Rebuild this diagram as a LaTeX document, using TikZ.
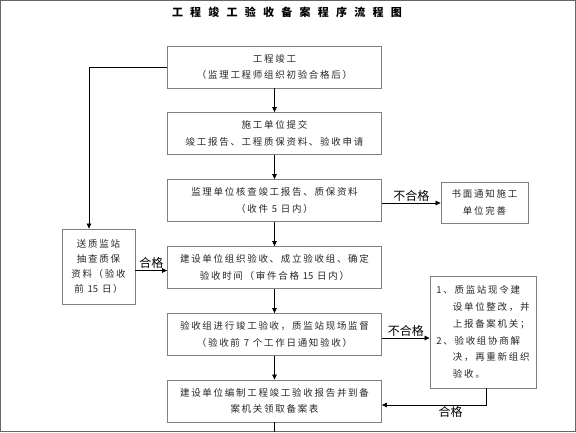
\documentclass[tikz,border=0pt]{standalone}
\usepackage{fontspec}
\usetikzlibrary{arrows.meta}
\newfontfamily\cjk[LetterSpace=18]{Noto Sans CJK SC}
\newfontfamily\cjktag{Noto Sans CJK SC}
\newfontfamily\cjktitle[LetterSpace=66]{Noto Sans CJK SC}
\newcommand\digits[1]{{\cjktag #1}}

\begin{document}
\begin{tikzpicture}[x=1pt,y=-1pt,
    box/.style={draw=black!50,line width=.8pt,align=center,inner sep=0pt,
      text=black!85,font=\cjk\fontsize{9.5}{16.5}\selectfont},
    main/.style={box,minimum width=214pt,minimum height=42pt},
    flow/.style={-{Triangle[length=5pt,width=4.5pt]},line width=.7pt},
    tag/.style={font=\cjktag\fontsize{12}{12}\selectfont,inner sep=1.5pt}]
  \useasboundingbox (0,0) rectangle (576,432);
  \draw[black!60,line width=1pt] (.5,.5) rectangle (575.5,431.5);
  %
  \node[font=\cjktitle\bfseries\fontsize{11}{11}\selectfont] (title) at (287,12)
       {工\hspace{7pt}程竣工验收备案程序流程图};
  %
  % main column
  \node[main] (finish)   at (274.5,67)    {工程竣工\\（监理工程师组织初验合格后）};
  \node[main] (submit)   at (274.5,133.5) {施工单位提交\\竣工报告、工程质保资料、验收申请};
  \node[main] (review)   at (274.5,200.5) {监理单位核查竣工报告、质保资料\\（收件 \digits{5} 日内）};
  \node[main] (organize) at (274.5,267.5) {建设单位组织验收、成立验收组、确定\\验收时间（审件合格 \digits{15} 日内）};
  \node[main] (inspect)  at (274.5,334.5) {验收组进行竣工验收，质监站现场监督\\（验收前 \digits{7} 个工作日通知验收）};
  \node[main] (report)   at (274.5,401)   {建设单位编制工程竣工验收报告并到备\\案机关领取备案表};
  %
  % side boxes
  \node[box,minimum width=73pt,minimum height=75pt,
        font=\cjk\fontsize{9.5}{14.7}\selectfont] (send) at (98.5,266.5)
       {送质监站\\抽查质保\\资料（验收\\前 \digits{15} 日）};
  \node[box,minimum width=87pt,minimum height=41pt] (notify) at (484.5,202.5)
       {书面通知施工\\单位完善};
  \node[box,minimum width=106pt,minimum height=112pt,align=left,
        font=\cjk\fontsize{9.5}{16.8}\selectfont] (rectify) at (483,332)
       {1、质监站现令建\\\phantom{1、}设单位整改，并\\\phantom{1、}上报备案机关；\\
        2、验收组协商解\\\phantom{2、}决，再重新组织\\\phantom{2、}验收。};
  %
  \foreach \a/\b in {finish/submit,submit/review,review/organize,
                     organize/inspect,inspect/report}
    {\draw[flow] (\a) -- (\b);}
  \coordinate (edge) at (274.5,432);
  \draw[line width=.7pt] (report) -- (edge);
  %
  \draw[flow] (finish.west) -| ([xshift=-9.5pt]send.north);
  \draw[flow] ([yshift=-4pt]send.east) -- ([yshift=-4pt]send.east -| organize.west)
        node[tag,midway,above] {合格};
  \draw[flow] ([yshift=-2.5pt]review.east) -- ([yshift=-2.5pt]review.east -| notify.west)
        node[tag,midway,above] {不合格};
  \draw[flow] ([yshift=-3.5pt]inspect.east) -- ([yshift=-3.5pt]inspect.east -| rectify.west)
        node[tag,midway,above] {不合格};
  \draw[flow] ([xshift=3pt]rectify.south) |- ([yshift=-4pt]report.east)
        node[tag,pos=.67,below] {合格};
\end{tikzpicture}
\end{document}
